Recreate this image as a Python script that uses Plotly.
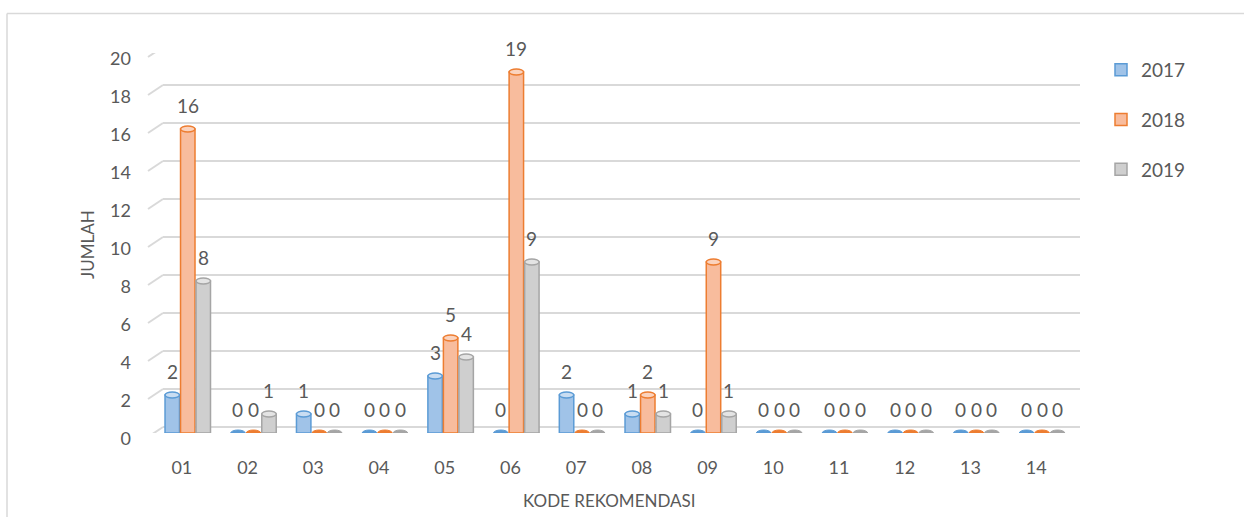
import plotly.graph_objects as go

# Recommendation codes and yearly counts
codes = ["01", "02", "03", "04", "05", "06", "07", "08", "09", "10", "11", "12", "13", "14"]
years = ["2017", "2018", "2019"]
counts_2017 = [2, 0, 1, 0, 3, 0, 2, 1, 0, 0, 0, 0, 0, 0]
counts_2018 = [16, 0, 0, 0, 5, 19, 0, 2, 9, 0, 0, 0, 0, 0]
counts_2019 = [8, 1, 0, 0, 4, 9, 0, 1, 1, 0, 0, 0, 0, 0]
y_ticks = list(range(0, 21, 2))

series = [counts_2017, counts_2018, counts_2019]
fills = ["#A0C3E8", "#F8BC9D", "#CFCFCF"]
edges = ["#5B9BD5", "#ED7D31", "#A5A5A5"]
caps = ["#C9DDF2", "#FBD3BE", "#E4E4E4"]

FONT = "Lato"
TXT = "#595959"
GRID = "#D9D9D9"

# plot area in pixels
L, R, T, B = 149, 175, 53, 84
W_PX, H_PX = 1244, 517
PW = W_PX - L - R
PH = H_PX - T - B


def xp(px):
    return (px - L) / PW


def yp(py):
    return (H_PX - B - py) / PH


bar_w = 0.22
step = 0.236
shift = 0.09

fig = go.Figure()
shapes = []
annotations = []

# back-wall gridlines with a short slanted edge on the left
for v in y_ticks:
    shapes.append(dict(type="line", layer="below", xref="paper", yref="y",
                       xsizemode="pixel", xanchor=0, x0=-1, x1=14,
                       ysizemode="pixel", yanchor=v, y0=-4, y1=6,
                       line=dict(color=GRID, width=2)))
    shapes.append(dict(type="line", layer="below", xref="paper", yref="y",
                       xsizemode="pixel", xanchor=0, x0=14, x1=931,
                       ysizemode="pixel", yanchor=v, y0=6, y1=6,
                       line=dict(color=GRID, width=2)))

for k, (name, vals) in enumerate(zip(years, series)):
    xs = [i + shift + (k - 1) * step for i in range(len(codes))]
    fig.add_trace(go.Bar(
        x=xs, y=vals, name=name, width=bar_w,
        marker=dict(color=fills[k], line=dict(color=edges[k], width=1.5)),
        legendgroup=name, hoverinfo="name+y",
    ))
    for x, v in zip(xs, vals):
        # rounded bottom of the cylinder
        shapes.append(dict(type="circle", layer="below", xref="x", yref="y",
                           x0=x - bar_w / 2, x1=x + bar_w / 2,
                           ysizemode="pixel", yanchor=0, y0=-3, y1=3,
                           fillcolor=edges[k], line=dict(color=edges[k], width=1)))
        if v > 0:
            # top cap of the cylinder
            shapes.append(dict(type="circle", layer="above", xref="x", yref="y",
                               x0=x - bar_w / 2, x1=x + bar_w / 2,
                               ysizemode="pixel", yanchor=v, y0=-3, y1=3,
                               fillcolor=caps[k], line=dict(color=edges[k], width=1.5)))
        annotations.append(dict(x=x, y=v, xref="x", yref="y", text=str(v),
                                showarrow=False, yshift=24, yanchor="middle",
                                font=dict(family=FONT, size=19, color=TXT)))

# frame around the chart
shapes.append(dict(type="line", xref="paper", yref="paper",
                   x0=xp(7), x1=xp(1250), y0=yp(13.5), y1=yp(13.5),
                   line=dict(color="#D9D9D9", width=1.5)))
shapes.append(dict(type="line", xref="paper", yref="paper",
                   x0=xp(7), x1=xp(7), y0=yp(13.5), y1=yp(530),
                   line=dict(color="#D9D9D9", width=1.5)))

# axis titles
annotations.append(dict(text="JUMLAH", xref="paper", yref="paper",
                        x=xp(87), y=yp(245), xanchor="center", yanchor="middle",
                        showarrow=False, textangle=-90,
                        font=dict(family=FONT, size=17, color=TXT)))
annotations.append(dict(text="KODE REKOMENDASI", xref="paper", yref="paper",
                        x=xp(609), y=yp(500), xanchor="center", yanchor="middle",
                        showarrow=False,
                        font=dict(family=FONT, size=17, color=TXT)))

fig.update_layout(
    width=W_PX, height=H_PX,
    margin=dict(l=L, r=R, t=T, b=B),
    paper_bgcolor="white", plot_bgcolor="white",
    barmode="overlay",
    shapes=shapes, annotations=annotations,
    showlegend=True,
    legend=dict(x=xp(1101), y=yp(51), xanchor="left", yanchor="top",
                tracegroupgap=22, font=dict(family=FONT, size=19, color=TXT),
                itemwidth=30, bgcolor="rgba(0,0,0,0)"),
    xaxis=dict(range=[-0.5, len(codes) - 0.5], tickvals=list(range(len(codes))),
               ticktext=codes, showgrid=False, zeroline=False, showline=False,
               ticks="", ticklabelstandoff=22,
               tickfont=dict(family=FONT, size=18, color=TXT), fixedrange=True),
    yaxis=dict(range=[0, 20], tickvals=y_ticks, showgrid=False, zeroline=False,
               showline=False, ticks="", ticklabelstandoff=17, ticklabelshift=6,
               tickfont=dict(family=FONT, size=18, color=TXT), fixedrange=True),
)

fig.write_html("out.html")
